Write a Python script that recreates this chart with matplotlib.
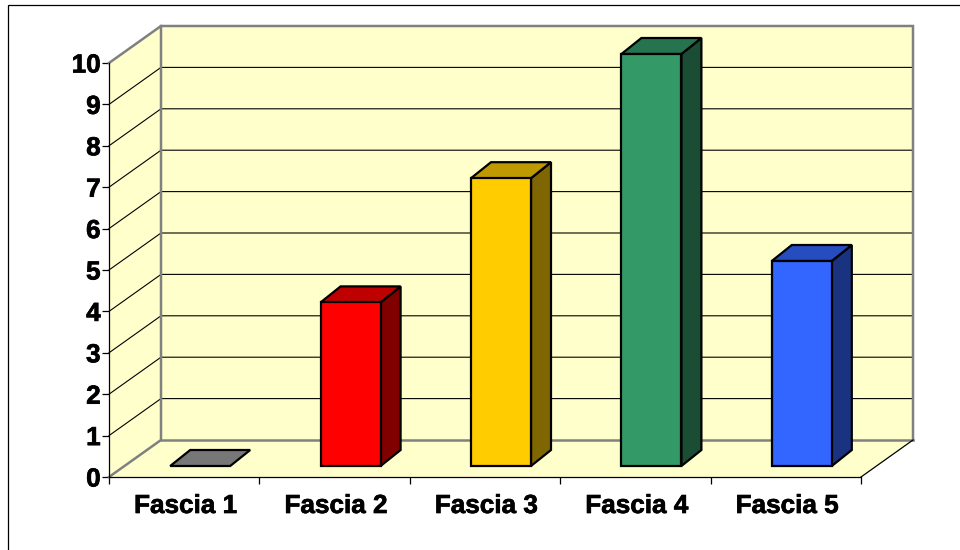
import matplotlib
matplotlib.use("Agg")
import matplotlib.pyplot as plt
import matplotlib.patheffects as pe
from matplotlib.lines import Line2D
from matplotlib.patches import Polygon

categories = ["Fascia 1", "Fascia 2", "Fascia 3", "Fascia 4", "Fascia 5"]
values = [0, 4, 7, 10, 5]
front_colors = ["#777777", "#FF0000", "#FFCC00", "#339966", "#3366FF"]
top_colors = ["#777777", "#BF0000", "#BF9900", "#267350", "#264DBF"]
side_colors = ["#777777", "#800000", "#806600", "#1A4D33", "#1A3380"]

W, H = 960, 550
L, R, T, B = 109, 861, 63, 477
XU = (R - L) / len(categories)      # pixels per category
YU = (B - T) / 10                   # pixels per value unit

WALL = "#FFFFCC"
GREY = "#808080"

fig = plt.figure(figsize=(W / 100, H / 100), dpi=100, facecolor="white")
ax = fig.add_axes([L / W, 1 - B / H, (R - L) / W, (B - T) / H])
ax.set_xlim(0, len(categories))
ax.set_ylim(0, 10)
ax.patch.set_visible(False)

# depth of the 3D box, in data units
DX, DY = 52 / XU, 37 / YU
# bar placement inside the box
BW = 60 / XU
BAR_X, BAR_Y = 16.0 / XU, 11 / YU
BAR_BASE = 9 / YU
BDX, BDY = 20 / XU, 16 / YU

def poly(pts, fc, ec, lw, z):
    ax.add_patch(Polygon(pts, closed=True, facecolor=fc, edgecolor=ec, linewidth=lw,
                         zorder=z, clip_on=False, joinstyle="miter"))

n = len(categories)
poly([(0, 0), (DX, DY), (DX, 10 + DY), (0, 10)], WALL, "none", 0, 1)
poly([(DX, DY), (n + DX, DY), (n + DX, 10 + DY), (DX, 10 + DY)], WALL, "none", 0, 1)
poly([(0, 0), (n, 0), (n + DX, DY), (DX, DY)], WALL, "none", 0, 1)

# gridlines
for v in range(1, 10):
    ax.plot([0, DX, n + DX], [v, v + DY, v + DY], color="#000000", lw=0.8, zorder=2, clip_on=False)

# grey box edges
ax.plot([0, DX, DX], [0, DY, 10 + DY], color=GREY, lw=1.8, zorder=2, clip_on=False,
        solid_joinstyle="miter")
ax.plot([DX, n + DX], [DY, DY], color=GREY, lw=1.8, zorder=2, clip_on=False)
ax.plot([0, DX, n + DX, n + DX], [10, 10 + DY, 10 + DY, DY], color=GREY, lw=1.8, zorder=2,
        clip_on=False, solid_joinstyle="miter")
ax.plot([n, n + DX], [0, DY], color="#000000", lw=0.9, zorder=2, clip_on=False)

# bars
for i, (v, fc, tc, sc) in enumerate(zip(values, front_colors, top_colors, side_colors)):
    x0 = i + 0.5 + BAR_X - BW / 2
    x1 = x0 + BW
    y0 = BAR_Y
    y1 = BAR_BASE + v if v > 0 else y0
    z = 3 + i
    if v > 0:
        poly([(x1, y0), (x1 + BDX, y0 + BDY), (x1 + BDX, y1 + BDY), (x1, y1)], sc, "black", 1.6, z)
    poly([(x0, y1), (x1, y1), (x1 + BDX, y1 + BDY), (x0 + BDX, y1 + BDY)], tc, "black", 1.6, z)
    if v > 0:
        ax.bar(x0, y1 - y0, width=BW, bottom=y0, align="edge", color=fc, edgecolor="black",
               linewidth=1.6, zorder=z, clip_on=False)

# axes
for s in ("top", "right"):
    ax.spines[s].set_visible(False)
for s in ("left", "bottom"):
    ax.spines[s].set_linewidth(0.9)
    ax.spines[s].set_zorder(10)

ax.set_yticks(range(0, 11))
ax.set_xticks(range(0, n + 1))
ax.set_xticklabels([])
font = dict(family=["Liberation Sans", "DejaVu Sans"], fontweight="bold", fontsize=18.8,
            path_effects=[pe.withStroke(linewidth=0.5, foreground="black")])
ax.tick_params(axis="y", length=5, width=0.9, pad=1, color="black")
ax.tick_params(axis="x", length=5, width=0.9, color="black")
for lab in ax.get_yticklabels():
    lab.set(**font)
for i, c in enumerate(categories):
    ax.annotate(c, xy=(i + 0.5, 0), xytext=(1.5, -29), textcoords="offset pixels",
                ha="center", va="center", annotation_clip=False, color="black", **font)

# outer frame, open towards the right and bottom
fig.add_artist(Line2D([8 / W, 8 / W, 1], [0, 1 - 4.5 / H, 1 - 4.5 / H], color="black", lw=0.9,
                      transform=fig.transFigure, solid_joinstyle="miter"))

fig.savefig("out.png", dpi=100, facecolor="white")
